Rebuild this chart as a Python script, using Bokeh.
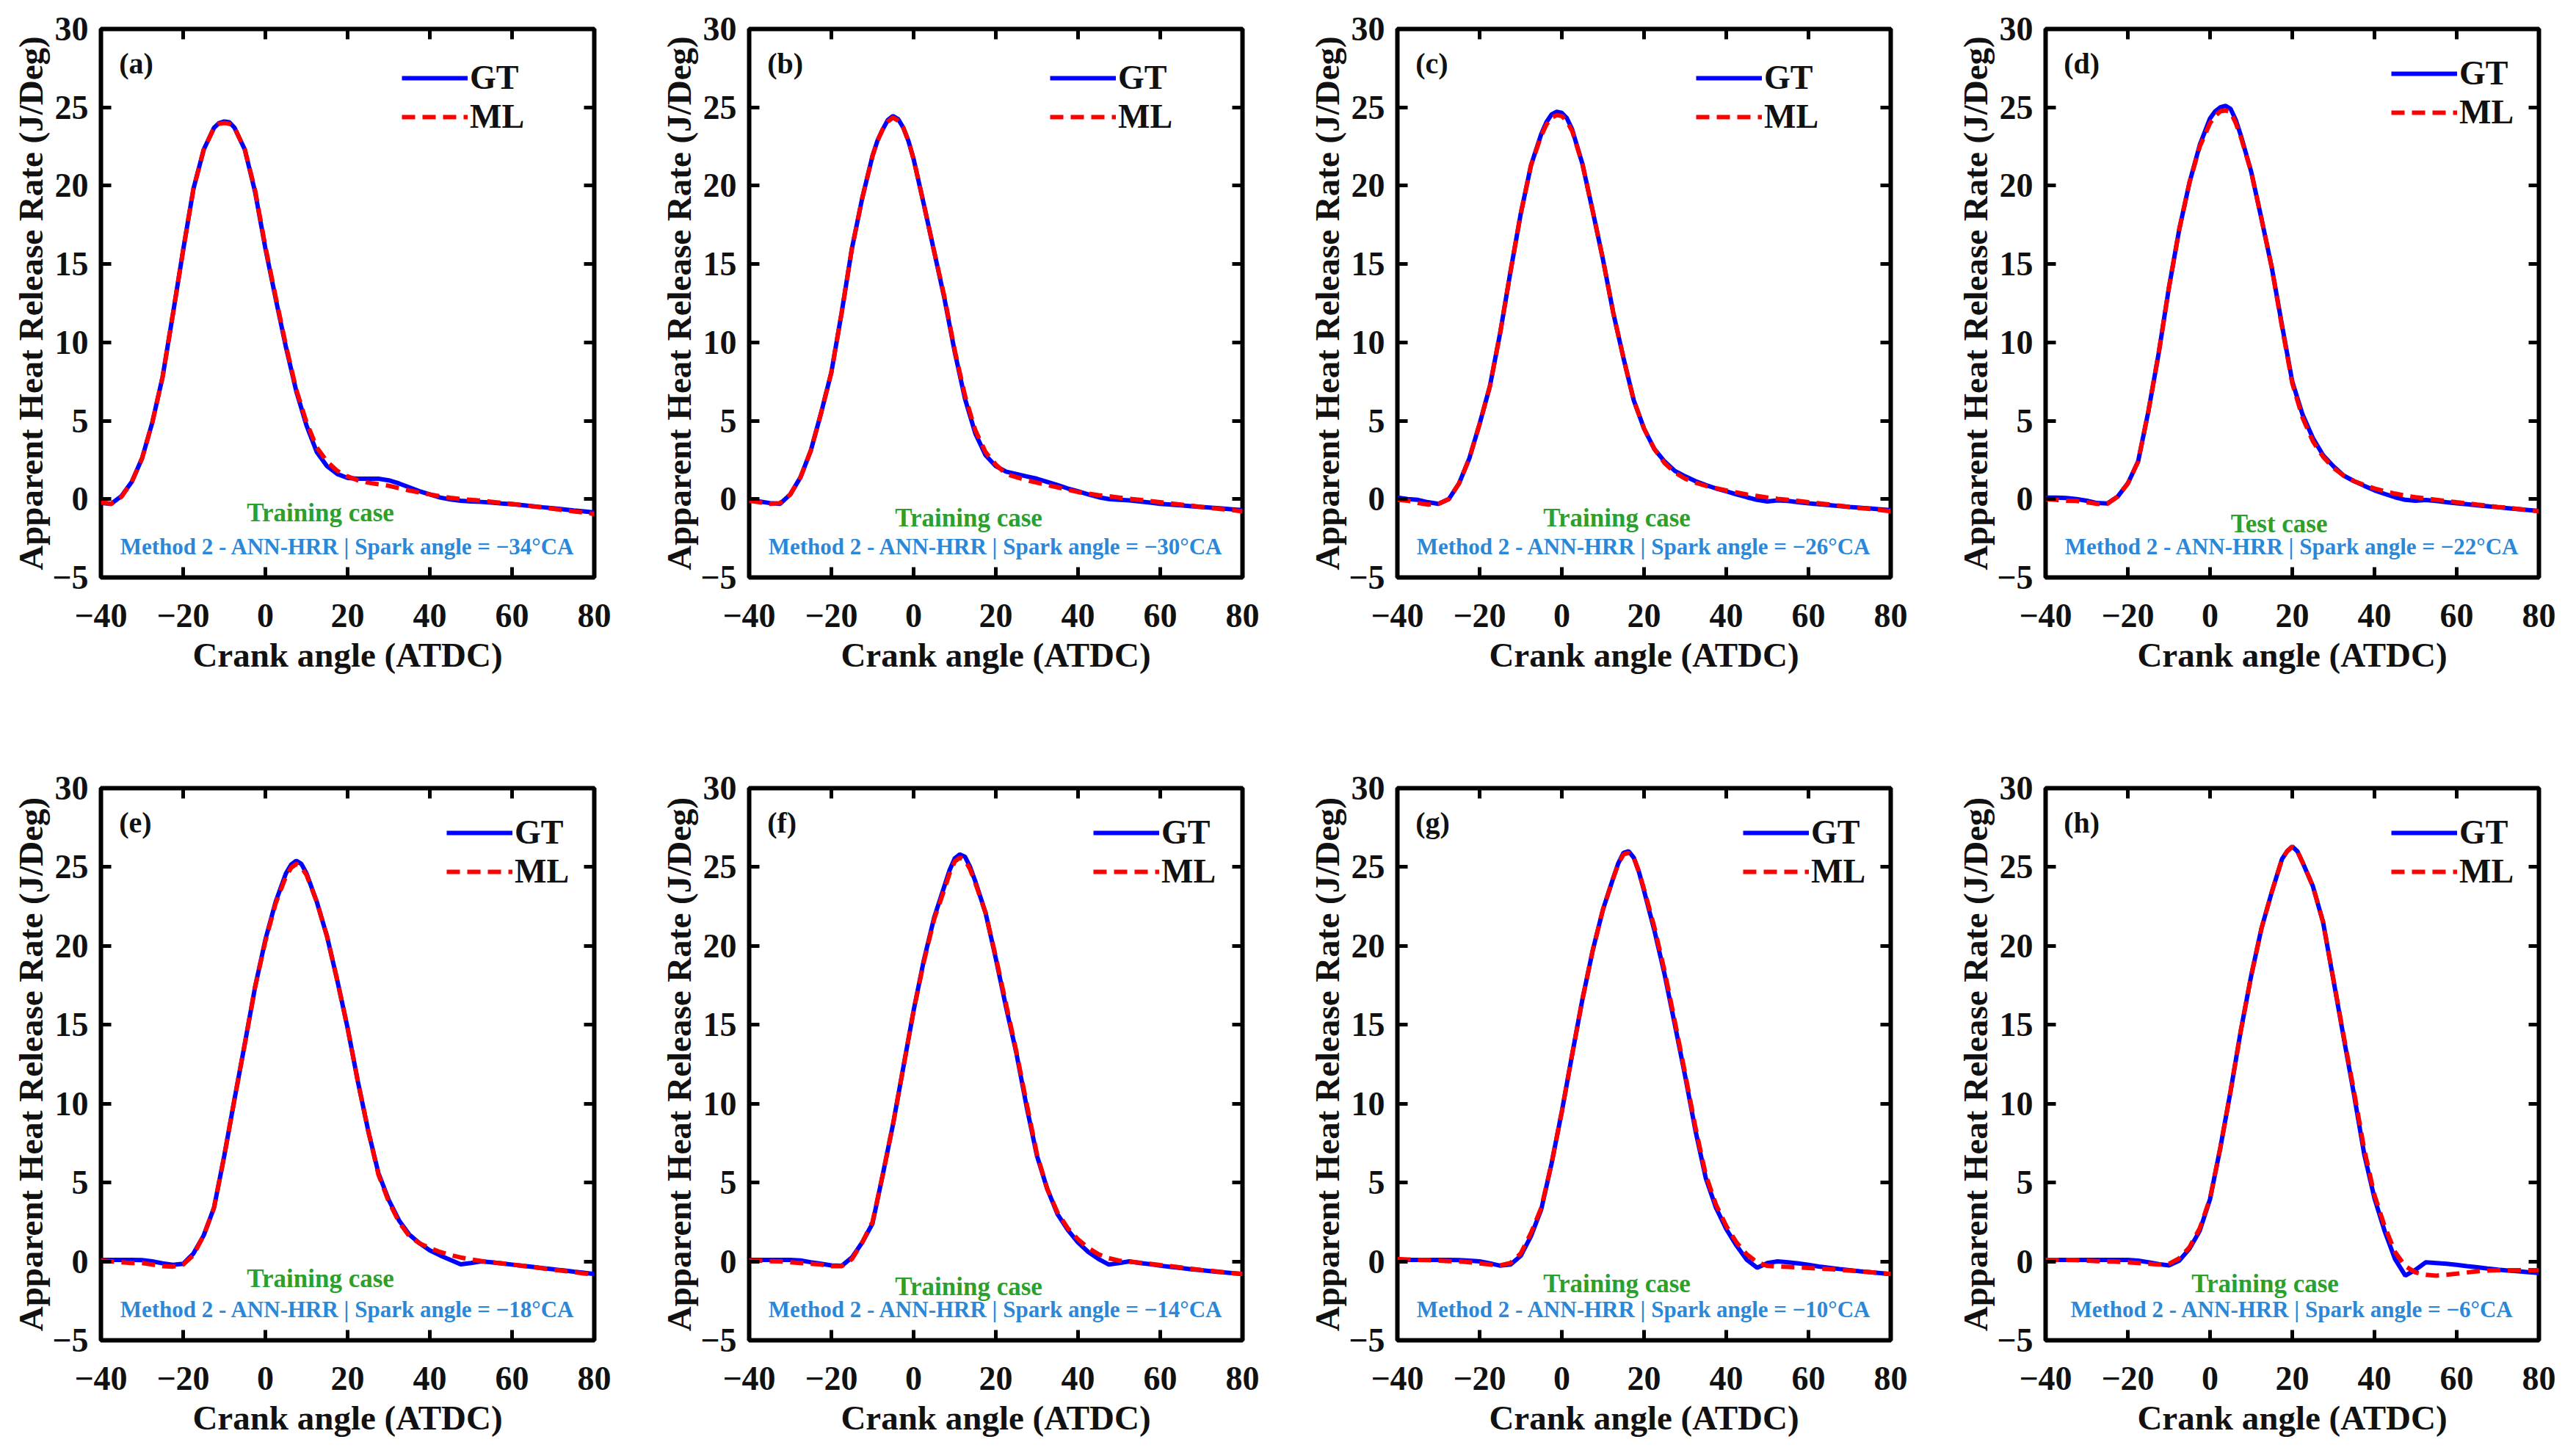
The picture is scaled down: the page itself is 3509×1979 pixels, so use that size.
from bokeh.plotting import figure
from bokeh.models import Range1d, FixedTicker, LinearAxis, Legend, LegendItem, Label
from bokeh.layouts import row, column
from bokeh.embed import file_html
from bokeh.resources import INLINE

# ---------------- data ----------------
crank_angle = [-40, -37.5, -35, -32.5, -30, -27.5, -25, -22.5, -20, -17.5, -15, -12.5, -10,
               -7.5, -5, -2.5, 0, 2.5, 5, 7.5, 10, 12.5, 15, 17.5, 20,
               22.5, 25, 27.5, 30, 32.5, 35, 37.5, 40, 42.5, 45, 47.5, 50,
               52.5, 55, 57.5, 60, 62.5, 65, 67.5, 70, 72.5, 75, 77.5, 80]

gt_a = [-0.25, -0.3, 0.2, 1.1, 2.6, 4.9, 7.8, 11.8, 15.9, 19.8, 22.3, 23.7, 24.1,
        23.7, 22.3, 19.6, 16.0, 12.8, 9.7, 6.9, 4.7, 3.0, 2.1, 1.6, 1.35,
        1.3, 1.3, 1.3, 1.2, 1.0, 0.75, 0.5, 0.3, 0.1, -0.02, -0.1, -0.15,
        -0.18, -0.22, -0.28, -0.33, -0.39, -0.45, -0.52, -0.58, -0.65, -0.72, -0.78, -0.85]
ml_a = [-0.2, -0.3, 0.15, 1.1, 2.6, 4.9, 7.8, 11.8, 15.9, 19.8, 22.3, 23.7, 24.0,
        23.7, 22.3, 19.7, 16.1, 12.9, 9.8, 7.0, 4.9, 3.3, 2.4, 1.8, 1.45,
        1.2, 1.05, 0.95, 0.85, 0.7, 0.55, 0.42, 0.3, 0.18, 0.08, 0.0, -0.05,
        -0.1, -0.17, -0.24, -0.3, -0.38, -0.46, -0.54, -0.62, -0.7, -0.78, -0.86, -0.95]

gt_b = [-0.05, -0.15, -0.25, -0.3, 0.3, 1.4, 3.1, 5.5, 8.1, 11.9, 16.0, 19.2, 21.9,
        23.6, 24.45, 23.7, 21.7, 18.8, 15.8, 12.8, 9.4, 6.4, 4.2, 2.8, 2.1,
        1.75, 1.6, 1.45, 1.3, 1.1, 0.9, 0.68, 0.5, 0.3, 0.12, 0.0, -0.05,
        -0.08, -0.15, -0.22, -0.3, -0.35, -0.4, -0.45, -0.5, -0.55, -0.6, -0.65, -0.7]
ml_b = [-0.1, -0.2, -0.3, -0.25, 0.3, 1.4, 3.1, 5.5, 8.1, 11.9, 16.0, 19.2, 21.9,
        23.6, 24.35, 23.7, 21.7, 18.8, 15.8, 12.9, 9.5, 6.6, 4.4, 3.0, 2.2,
        1.6, 1.4, 1.2, 1.05, 0.9, 0.75, 0.6, 0.45, 0.35, 0.25, 0.18, 0.1,
        0.02, -0.05, -0.12, -0.2, -0.28, -0.35, -0.42, -0.5, -0.57, -0.64, -0.7, -0.78]

gt_c = [0.1, 0.0, -0.05, -0.2, -0.3, 0.0, 1.0, 2.6, 4.8, 7.2, 10.6, 14.5, 18.2,
        21.3, 23.3, 24.55, 24.65, 23.6, 21.4, 18.4, 15.3, 11.9, 9.0, 6.3, 4.5,
        3.2, 2.4, 1.8, 1.45, 1.15, 0.9, 0.68, 0.5, 0.3, 0.12, -0.05, -0.15,
        -0.08, -0.12, -0.2, -0.27, -0.33, -0.38, -0.44, -0.5, -0.55, -0.6, -0.65, -0.7]
ml_c = [-0.05, -0.1, -0.25, -0.35, -0.3, 0.0, 1.0, 2.6, 4.8, 7.2, 10.6, 14.5, 18.2,
        21.3, 23.2, 24.35, 24.45, 23.5, 21.4, 18.4, 15.3, 11.9, 9.0, 6.3, 4.5,
        3.2, 2.3, 1.7, 1.3, 1.05, 0.85, 0.7, 0.55, 0.42, 0.3, 0.2, 0.1,
        0.02, -0.05, -0.12, -0.2, -0.27, -0.34, -0.42, -0.5, -0.57, -0.63, -0.7, -0.77]

gt_d = [0.1, 0.1, 0.07, 0.0, -0.1, -0.25, -0.28, 0.15, 1.0, 2.4, 5.6, 9.3, 13.5,
        17.2, 20.2, 22.6, 24.3, 25.0, 24.9, 23.2, 20.9, 17.9, 14.8, 11.1, 7.5,
        5.4, 3.9, 2.8, 2.1, 1.5, 1.15, 0.85, 0.56, 0.33, 0.12, -0.05, -0.1,
        -0.06, -0.12, -0.2, -0.27, -0.33, -0.4, -0.46, -0.52, -0.58, -0.64, -0.7, -0.76]
ml_d = [0.0, -0.05, -0.1, -0.12, -0.2, -0.3, -0.3, 0.15, 1.0, 2.4, 5.6, 9.3, 13.5,
        17.2, 20.2, 22.5, 24.0, 24.75, 24.7, 23.1, 20.9, 17.9, 14.8, 11.0, 7.4,
        5.2, 3.7, 2.7, 2.0, 1.5, 1.15, 0.9, 0.68, 0.5, 0.35, 0.22, 0.12,
        0.04, -0.04, -0.12, -0.2, -0.27, -0.35, -0.42, -0.5, -0.56, -0.63, -0.7, -0.77]

gt_e = [0.1, 0.1, 0.1, 0.1, 0.08, 0.0, -0.12, -0.22, -0.15, 0.5, 1.65, 3.4, 6.7,
        10.3, 13.8, 17.4, 20.4, 22.8, 24.6, 25.4, 24.6, 22.8, 20.6, 17.8, 14.8,
        11.4, 8.3, 5.6, 3.9, 2.6, 1.7, 1.15, 0.7, 0.38, 0.1, -0.18, -0.1,
        0.0, -0.05, -0.12, -0.2, -0.28, -0.35, -0.43, -0.5, -0.57, -0.65, -0.72, -0.8]
ml_e = [0.05, 0.0, -0.05, -0.1, -0.1, -0.2, -0.3, -0.33, -0.2, 0.4, 1.65, 3.4, 6.7,
        10.3, 13.8, 17.4, 20.3, 22.7, 24.4, 25.2, 24.5, 22.8, 20.6, 17.8, 14.8,
        11.4, 8.3, 5.5, 3.8, 2.5, 1.6, 1.15, 0.85, 0.6, 0.4, 0.25, 0.12,
        0.03, -0.05, -0.12, -0.2, -0.28, -0.36, -0.44, -0.52, -0.6, -0.68, -0.76, -0.84]

gt_f = [0.1, 0.1, 0.1, 0.1, 0.1, 0.06, -0.05, -0.15, -0.25, -0.28, 0.25, 1.2, 2.4,
        5.5, 8.7, 12.3, 15.9, 19.1, 21.8, 23.8, 25.55, 25.65, 24.1, 22.1, 19.2,
        16.1, 13.2, 9.8, 6.7, 4.6, 3.0, 2.0, 1.2, 0.6, 0.15, -0.2, -0.1,
        0.0, -0.1, -0.17, -0.27, -0.35, -0.42, -0.5, -0.56, -0.62, -0.68, -0.74, -0.8]
ml_f = [0.05, 0.05, 0.02, 0.0, -0.05, -0.1, -0.15, -0.2, -0.3, -0.3, 0.15, 1.2, 2.5,
        5.5, 8.7, 12.3, 15.9, 19.0, 21.7, 23.6, 25.35, 25.45, 24.0, 22.1, 19.3,
        16.3, 13.3, 10.0, 6.8, 4.6, 3.1, 2.1, 1.4, 0.85, 0.45, 0.2, 0.05,
        -0.02, -0.08, -0.15, -0.23, -0.3, -0.38, -0.46, -0.54, -0.6, -0.67, -0.74, -0.8]

gt_g = [0.1, 0.1, 0.1, 0.1, 0.1, 0.1, 0.08, 0.05, 0.0, -0.12, -0.27, -0.2, 0.35,
        1.6, 3.3, 6.2, 9.5, 13.1, 16.6, 19.7, 22.3, 24.3, 25.9, 25.6, 23.5,
        21.0, 18.2, 15.0, 11.75, 8.3, 5.3, 3.4, 2.05, 1.0, 0.1, -0.4, -0.1,
        0.0, -0.05, -0.12, -0.22, -0.32, -0.4, -0.48, -0.55, -0.62, -0.68, -0.74, -0.8]
ml_g = [0.15, 0.12, 0.1, 0.08, 0.05, 0.02, 0.0, -0.05, -0.12, -0.2, -0.25, -0.1, 0.5,
        1.8, 3.4, 6.2, 9.5, 13.1, 16.6, 19.7, 22.3, 24.3, 25.8, 25.6, 23.6,
        21.2, 18.4, 15.2, 11.9, 8.5, 5.5, 3.6, 2.25, 1.2, 0.45, -0.05, -0.28,
        -0.33, -0.35, -0.38, -0.42, -0.45, -0.48, -0.53, -0.58, -0.63, -0.68, -0.74, -0.8]

gt_h = [0.1, 0.1, 0.1, 0.1, 0.1, 0.1, 0.1, 0.1, 0.1, 0.05, -0.05, -0.17, -0.25,
        0.05, 0.8, 1.95, 3.95, 7.2, 10.8, 14.65, 18.1, 21.1, 23.4, 25.5, 26.3,
        25.3, 23.8, 21.5, 17.85, 14.2, 10.6, 6.8, 4.0, 1.9, 0.15, -0.9, -0.53,
        -0.05, -0.1, -0.15, -0.22, -0.3, -0.37, -0.45, -0.52, -0.58, -0.63, -0.68, -0.73]
ml_h = [0.1, 0.1, 0.1, 0.08, 0.05, 0.02, 0.0, -0.02, -0.05, -0.1, -0.15, -0.2, -0.15,
        0.2, 0.9, 2.1, 4.0, 7.2, 10.8, 14.65, 18.1, 21.1, 23.4, 25.5, 26.3,
        25.3, 23.8, 21.5, 17.9, 14.3, 10.8, 7.1, 4.2, 2.2, 0.6, -0.3, -0.7,
        -0.85, -0.9, -0.85, -0.78, -0.7, -0.63, -0.58, -0.56, -0.55, -0.55, -0.55, -0.55]

# extra readings taken around each peak (finer spacing)
peak_x_a = [-11.25, -8.75]
peak_gt_a = [24.0, 24.05]
peak_ml_a = [23.95, 23.95]
peak_x_b = [-8.75, -6.25, -3.75, -1.25]
peak_gt_b = [22.9, 24.2, 24.25, 22.85]
peak_ml_b = [22.9, 24.1, 24.15, 22.85]
peak_x_c = [-3.75, -1.25, 1.25]
peak_gt_c = [24.05, 24.72, 24.3]
peak_ml_c = [23.9, 24.5, 24.1]
peak_x_d = [1.25, 3.75, 6.25]
peak_gt_d = [24.75, 25.1, 24.2]
peak_ml_d = [24.45, 24.8, 24.0]
peak_x_e = [6.25, 8.75]
peak_gt_e = [25.15, 25.2]
peak_ml_e = [24.95, 25.0]
peak_x_f = [8.75, 11.25, 13.75]
peak_gt_f = [24.8, 25.8, 25.0]
peak_ml_f = [24.6, 25.6, 24.85]
peak_x_g = [13.75, 16.25, 18.75]
peak_gt_g = [25.25, 26.0, 24.7]
peak_ml_g = [25.2, 25.9, 24.7]
peak_x_h = [18.75, 21.25]
peak_gt_h = [26.0, 26.0]
peak_ml_h = [26.0, 26.0]

panel_letters = ["(a)", "(b)", "(c)", "(d)", "(e)", "(f)", "(g)", "(h)"]
spark_angles = [-34, -30, -26, -22, -18, -14, -10, -6]
case_labels = ["Training case", "Training case", "Training case", "Test case",
               "Training case", "Training case", "Training case", "Training case"]
gt_series = [gt_a, gt_b, gt_c, gt_d, gt_e, gt_f, gt_g, gt_h]
ml_series = [ml_a, ml_b, ml_c, ml_d, ml_e, ml_f, ml_g, ml_h]
peak_x = [peak_x_a, peak_x_b, peak_x_c, peak_x_d, peak_x_e, peak_x_f, peak_x_g, peak_x_h]
peak_gt = [peak_gt_a, peak_gt_b, peak_gt_c, peak_gt_d, peak_gt_e, peak_gt_f, peak_gt_g, peak_gt_h]
peak_ml = [peak_ml_a, peak_ml_b, peak_ml_c, peak_ml_d, peak_ml_e, peak_ml_f, peak_ml_g, peak_ml_h]

x_ticks = [-40, -20, 0, 20, 40, 60, 80]
y_ticks = [-5, 0, 5, 10, 15, 20, 25, 30]

# ---------------- layout / style ----------------
FONT = "Liberation Serif"
COL_W = [883, 883, 883, 844]
ROW_H = [1034, 929]
FRAME_W = 672
FRAME_H = [747, 752]
BORDER_L = 137
BORDER_T = 39
LEG_X = [410, 410, 407, 471, 471, 469, 471, 471]
LEG_TOP = [71, 71, 71, 65, 65, 65, 65, 65]
CASE_X = [13.4, 13.4, 13.4, 16.8, 13.4, 13.4, 13.4, 13.4]
CASE_Y = [-0.9, -1.2, -1.2, -1.6, -1.1, -1.6, -1.4, -1.4]


def merged(i, series, extra):
    pts = sorted(list(zip(crank_angle, series)) + list(zip(peak_x[i], extra)))
    return [q[0] for q in pts], [q[1] for q in pts]


def hide_labels(ax, ticks):
    ax.ticker = FixedTicker(ticks=ticks)
    ax.major_label_overrides = {t: "" for t in ticks}
    ax.major_label_standoff = 0
    ax.axis_line_color = None
    ax.major_tick_in = 14
    ax.major_tick_out = 0
    ax.major_tick_line_width = 5
    ax.minor_tick_line_color = None


def make_panel(i):
    r, c = divmod(i, 4)
    p = figure(width=COL_W[c], height=ROW_H[r], output_backend="svg",
               toolbar_location=None,
               x_range=Range1d(-40, 80), y_range=Range1d(-5, 30),
               min_border_left=BORDER_L, min_border_right=COL_W[c] - BORDER_L - FRAME_W,
               min_border_top=BORDER_T, min_border_bottom=ROW_H[r] - BORDER_T - FRAME_H[r])
    p.grid.visible = False
    p.outline_line_color = "black"
    p.outline_line_width = 6
    p.background_fill_color = "white"
    p.border_fill_color = "white"

    for ax, ticks, lab in ((p.xaxis[0], x_ticks, "Crank angle (ATDC)"),
                           (p.yaxis[0], y_ticks, "Apparent Heat Release Rate (J/Deg)")):
        ax.ticker = FixedTicker(ticks=ticks)
        ax.major_label_overrides = {t: ("\u2212" + str(abs(t)) if t < 0 else str(t)) for t in ticks}
        ax.axis_label = lab
        ax.axis_line_color = None
        ax.major_tick_in = 14
        ax.major_tick_out = 0
        ax.major_tick_line_width = 5
        ax.minor_tick_line_color = None
        ax.major_label_text_font = FONT
        ax.major_label_text_font_style = "bold"
        ax.major_label_text_font_size = "46px"
        ax.major_label_text_color = "#111111"
        ax.axis_label_text_font = FONT
        ax.axis_label_text_font_style = "bold"
        ax.axis_label_text_font_size = "47px"
        ax.axis_label_text_color = "#111111"
    p.xaxis[0].major_label_standoff = 36
    p.xaxis[0].axis_label_standoff = 9
    p.yaxis[0].major_label_standoff = 17
    p.yaxis[0].axis_label_standoff = 0

    top_ax = LinearAxis()
    hide_labels(top_ax, x_ticks)
    p.add_layout(top_ax, "above")
    right_ax = LinearAxis()
    hide_labels(right_ax, y_ticks)
    p.add_layout(right_ax, "right")

    gx, gy = merged(i, gt_series[i], peak_gt[i])
    mx, my = merged(i, ml_series[i], peak_ml[i])
    r_gt = p.line(gx, gy, line_color="#0000ff", line_width=6)
    r_ml = p.line(mx, my, line_color="#ff0000", line_width=6, line_dash="18 10")

    leg_h = 50
    leg = Legend(items=[LegendItem(label="GT", renderers=[r_gt]),
                        LegendItem(label="ML", renderers=[r_ml])],
                 location=(LEG_X[i], FRAME_H[r] - LEG_TOP[i] - 1.5 * leg_h),
                 orientation="vertical", border_line_color=None,
                 background_fill_alpha=0,
                 label_text_font=FONT, label_text_font_style="bold",
                 label_text_font_size="46px", label_text_color="#111111",
                 glyph_width=90, glyph_height=leg_h, label_height=leg_h,
                 label_standoff=3, spacing=0, padding=0, margin=0)
    p.add_layout(leg)

    p.add_layout(Label(x=-35.6, y=27.8, text=panel_letters[i], text_font=FONT,
                       text_font_style="bold", text_font_size="40px",
                       text_color="#111111",
                       text_align="left", text_baseline="middle"))
    p.add_layout(Label(x=CASE_X[i], y=CASE_Y[i], text=case_labels[i], text_font=FONT,
                       text_font_style="bold", text_font_size="35px",
                       text_color="#2ca02c", text_align="center", text_baseline="middle"))
    sa = spark_angles[i]
    p.add_layout(Label(x=20, y=-3.05,
                       text="Method 2 - ANN-HRR | Spark angle = \u2212%d\u00b0CA" % abs(sa),
                       text_font=FONT, text_font_style="bold", text_font_size="31px",
                       text_color="#2b88d8", text_align="center", text_baseline="middle"))
    return p


figs = [make_panel(i) for i in range(8)]
layout = column(row(*figs[:4]), row(*figs[4:]))

open("out.html", "w").write(file_html(layout, INLINE))
